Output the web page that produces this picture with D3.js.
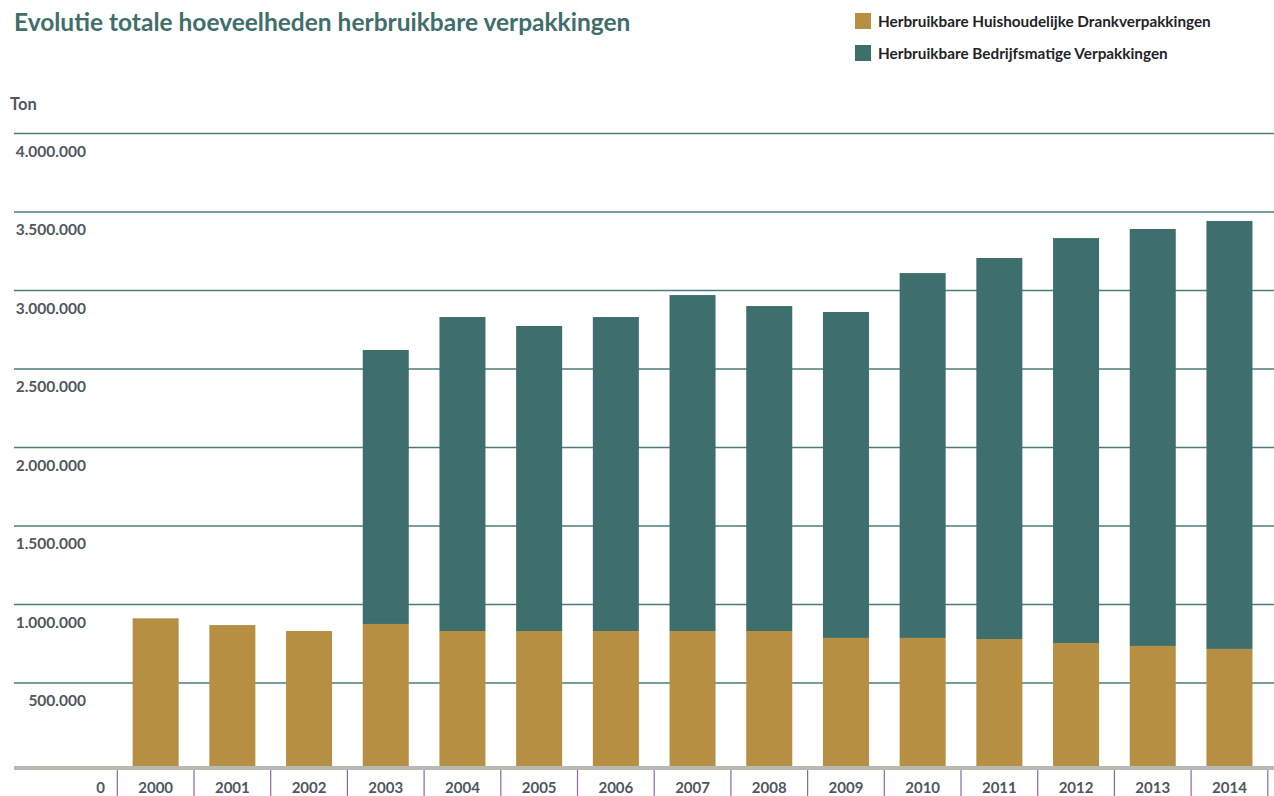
<!DOCTYPE html>
<html>
<head>
<meta charset="utf-8">
<script src="https://cdn.jsdelivr.net/npm/d3@7"></script>
<style>
  body { margin: 0; background: #fff; }
  svg { display: block; font-family: Lato, "Open Sans", sans-serif; }
</style>
</head>
<body>
<div id="chart"></div>
<script>
const w = 1274;
const h = 796;

// data (ton)
const years = ["2000", "2001", "2002", "2003", "2004", "2005", "2006", "2007",
               "2008", "2009", "2010", "2011", "2012", "2013", "2014"];
const household = [912000, 869000, 831000, 876000, 831000, 831000, 831000, 831000,
                   831000, 787000, 787000, 780000, 755000, 736000, 717000];
const business = [0, 0, 0, 1745000, 2000000, 1943000, 2000000, 2140000,
                  2070000, 2076000, 2324000, 2427000, 2579000, 2656000, 2726000];
const yTicks = [500000, 1000000, 1500000, 2000000, 2500000, 3000000, 3500000, 4000000];
const seriesNames = ["Herbruikbare Huishoudelijke Drankverpakkingen",
                     "Herbruikbare Bedrijfsmatige Verpakkingen"];
const colors = ["#b78f42", "#3e6f6d"];

const svg = d3.select("#chart")
    .append("svg")
    .attr("width", w)
    .attr("height", h);

const x = d3.scaleBand()
    .domain(years)
    .range([117.3, 1267.8])
    .paddingInner(0.4)
    .paddingOuter(0.2);

const y = d3.scaleLinear()
    .domain([0, 4000000])
    .range([761.5, 133.5]);

const baseY = 768;   // thick grey axis line, bars run down to it
const fmt = v => d3.format(",")(v).replace(/,/g, ".");

// title
svg.append("text")
    .attr("x", 14)
    .attr("y", 31)
    .attr("fill", "#3f6e6b")
    .attr("font-size", 24.5)
    .attr("font-weight", 700)
    .text("Evolutie totale hoeveelheden herbruikbare verpakkingen");

// legend
const legend = svg.selectAll(".legend")
    .data(seriesNames)
    .enter()
    .append("g")
    .attr("class", "legend")
    .attr("transform", (d, i) => "translate(855," + (13 + i * 32) + ")");

legend.append("rect")
    .attr("width", 16)
    .attr("height", 16)
    .attr("fill", (d, i) => colors[i]);

legend.append("text")
    .attr("x", 23)
    .attr("y", 14)
    .attr("font-size", 15.3)
    .attr("font-weight", 700)
    .attr("fill", "#1f2426")
    .text(d => d);

// unit label
svg.append("text")
    .attr("x", 10)
    .attr("y", 110)
    .attr("font-size", 16.5)
    .attr("font-weight", 700)
    .attr("fill", "#50575d")
    .text("Ton");

// gridlines
svg.selectAll(".grid")
    .data(yTicks)
    .enter()
    .append("line")
    .attr("class", "grid")
    .attr("x1", 14)
    .attr("x2", w)
    .attr("y1", d => y(d))
    .attr("y2", d => y(d))
    .attr("stroke", "#4b7d7a")
    .attr("stroke-width", 1.6);

// y labels sit just under their gridline
svg.selectAll(".ylab")
    .data(yTicks)
    .enter()
    .append("text")
    .attr("class", "ylab")
    .attr("x", 86)
    .attr("y", d => y(d) + 23)
    .attr("text-anchor", "end")
    .attr("font-size", 15.5)
    .attr("font-weight", 700)
    .attr("fill", "#50575d")
    .text(d => fmt(d));

// stacked bars
const stackData = years.map((yr, i) => ({ year: yr, household: household[i], business: business[i] }));
const stack = d3.stack().keys(["household", "business"])(stackData);

svg.selectAll(".series")
    .data(stack)
    .enter()
    .append("g")
    .attr("class", "series")
    .attr("fill", (d, i) => colors[i])
    .selectAll("rect")
    .data(d => d.filter(p => p[1] > p[0]))
    .enter()
    .append("rect")
    .attr("x", d => x(d.data.year))
    .attr("width", x.bandwidth())
    .attr("y", d => y(d[1]))
    .attr("height", d => (d[0] === 0 ? baseY : y(d[0])) - y(d[1]));

// axis line
svg.append("line")
    .attr("x1", 14)
    .attr("x2", w)
    .attr("y1", baseY)
    .attr("y2", baseY)
    .attr("stroke", "#b9b9b4")
    .attr("stroke-width", 4);

// category separators
const seps = years.map(yr => x(yr) - x.step() * x.paddingOuter());
seps.push(x.range()[1]);
svg.selectAll(".sep")
    .data(seps)
    .enter()
    .append("line")
    .attr("class", "sep")
    .attr("x1", d => d)
    .attr("x2", d => d)
    .attr("y1", baseY + 2)
    .attr("y2", h)
    .attr("stroke", "#8a6aa0")
    .attr("stroke-width", 1.2);

// year labels
svg.selectAll(".xlab")
    .data(years)
    .enter()
    .append("text")
    .attr("class", "xlab")
    .attr("x", d => x(d) + x.bandwidth() / 2)
    .attr("y", 793)
    .attr("text-anchor", "middle")
    .attr("font-size", 15)
    .attr("font-weight", 700)
    .attr("fill", "#50575d")
    .text(d => d);

svg.append("text")
    .attr("x", 105)
    .attr("y", 793)
    .attr("text-anchor", "end")
    .attr("font-size", 15)
    .attr("font-weight", 700)
    .attr("fill", "#50575d")
    .text("0");
</script>
</body>
</html>
